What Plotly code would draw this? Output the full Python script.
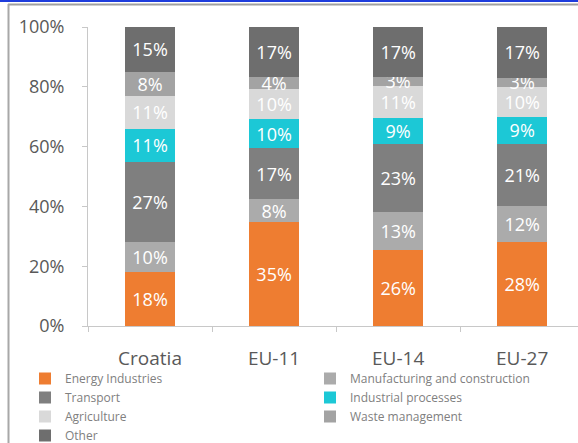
import plotly.graph_objects as go

categories = ["Croatia", "EU-11", "EU-14", "EU-27"]
series_names = ["Energy Industries", "Manufacturing and construction", "Transport",
                "Industrial processes", "Agriculture", "Waste management", "Other"]
energy = [18, 35, 26, 28]
manufacturing = [10, 8, 13, 12]
transport = [27, 17, 23, 21]
industrial = [11, 10, 9, 9]
agriculture = [11, 10, 11, 10]
waste = [8, 4, 3, 3]
other = [15, 17, 17, 17]
y_ticks = [0, 20, 40, 60, 80, 100]

series_values = [energy, manufacturing, transport, industrial, agriculture, waste, other]
colors = ["#EE7D31", "#ABABAB", "#7F7F7F", "#1CC8D6", "#D9D9D9", "#A3A3A3", "#6E6E6E"]

W, H = 578, 443
PL, PR, PT, PB = 88, 578, 27, 326  # plot area in pixels


def px_x(x):
    return (x - PL) / (PR - PL)


def px_y(y):
    return (PB - y) / (PB - PT)


FONT = "Open Sans"
fig = go.Figure()
for name, vals, col in zip(series_names, series_values, colors):
    fig.add_trace(go.Bar(
        x=categories, y=vals, name=name,
        marker=dict(color=col, line=dict(width=0)),
        text=[f"{v}%" for v in vals],
        textposition="inside", insidetextanchor="middle", textangle=0,
        constraintext="none",
        textfont=dict(color="white", size=18, family=FONT),
        hoverinfo="skip",
    ))

shapes = [
    dict(type="line", xref="paper", yref="paper", x0=px_x(0), x1=px_x(W), y0=px_y(1), y1=px_y(1),
         line=dict(color="#1E3CDC", width=2)),
    dict(type="line", xref="paper", yref="paper", x0=px_x(8), x1=px_x(W), y0=px_y(4.5), y1=px_y(4.5),
         line=dict(color="#A0A0A0", width=2)),
    dict(type="line", xref="paper", yref="paper", x0=px_x(8.5), x1=px_x(8.5), y0=px_y(4), y1=px_y(H),
         line=dict(color="#A8A8A8", width=2)),
]

fig.update_layout(
    width=W, height=H,
    margin=dict(l=PL, r=W - PR, t=PT, b=H - PB, pad=0, autoexpand=False),
    barmode="stack", barnorm="percent", bargap=0.6,
    plot_bgcolor="white", paper_bgcolor="white",
    font=dict(family=FONT, color="#595959"),
    uniformtext=dict(minsize=18, mode="show"),
    showlegend=True,
    legend=dict(orientation="h", traceorder="normal",
                x=px_x(25), xanchor="left", y=px_y(364), yanchor="top",
                entrywidth=240, entrywidthmode="pixels",
                font=dict(size=12, color="#808080", family=FONT),
                bgcolor="rgba(0,0,0,0)", itemclick=False),
    shapes=shapes,
)
fig.update_xaxes(range=[-0.5, 3.45], showgrid=False, showline=True, linecolor="#C8C8C8", linewidth=1,
                 ticks="outside", tickson="boundaries", ticklen=5, tickcolor="#C8C8C8",
                 tickfont=dict(size=19, color="#595959", family=FONT), ticklabelstandoff=15)
fig.update_yaxes(range=[0, 100], tickvals=y_ticks, ticktext=[f"{v}%" for v in y_ticks],
                 showgrid=False, showline=True, linecolor="#C8C8C8", linewidth=1,
                 ticks="outside", ticklen=5, tickcolor="#C8C8C8", zeroline=False,
                 tickfont=dict(size=18, color="#595959", family=FONT), ticklabelstandoff=14)

fig.write_html("out.html", config={"displayModeBar": False},
               post_script="document.body.style.margin='0px';")
